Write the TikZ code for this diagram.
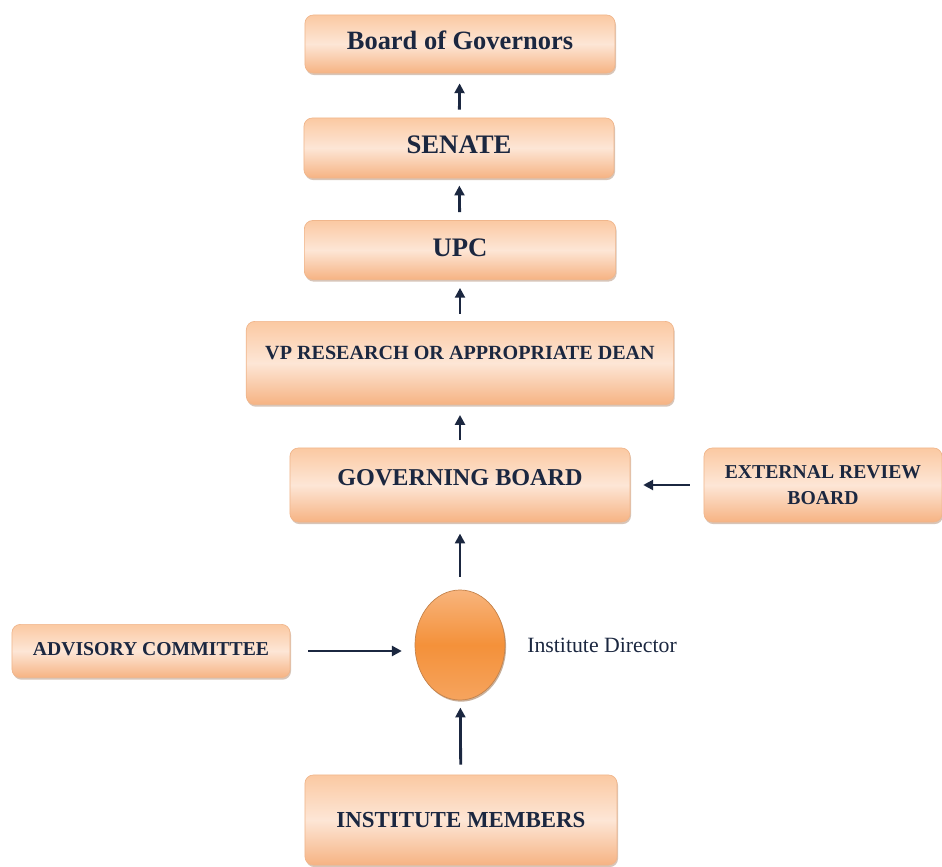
\documentclass[tikz,border=0pt]{standalone}
\usepackage{fontspec}
\setmainfont{Liberation Serif}
\usepackage{tikz}
\usetikzlibrary{arrows.meta,shapes.geometric,shadows}

\definecolor{inktext}{HTML}{1B2740}
\definecolor{boxtop}{HTML}{FBC9A2}
\definecolor{boxmid}{HTML}{FDE6D6}
\definecolor{boxbot}{HTML}{F6B383}
\definecolor{boxline}{HTML}{F0B68C}
\definecolor{dirtop}{HTML}{F8B47C}
\definecolor{dirmid}{HTML}{F4913A}
\definecolor{dirbot}{HTML}{F6A45E}

\tikzset{
  orgbox/.style={rectangle, rounded corners=6pt, draw=boxline, line width=0.5pt,
    top color=boxtop, bottom color=boxbot, middle color=boxmid,
    drop shadow={shadow xshift=0.7pt, shadow yshift=-1.5pt, fill=boxline!70!black, opacity=0.45},
    text=inktext, font=\bfseries, align=center, inner sep=0pt},
  orgarrow/.style={draw=inktext, line width=2pt, -{Triangle[length=7pt,width=7pt]}}
}

\begin{document}
\begin{tikzpicture}[x=0.025cm, y=-0.025cm]

  \useasboundingbox (0,0) rectangle (942,867);

  % Boxes of the chain
  \node[orgbox, minimum width=7.75cm, minimum height=1.45cm, text depth=5pt,
    font=\bfseries\fontsize{18.8}{20}\selectfont] (bog) at (460,44) {Board of Governors};
  \node[orgbox, minimum width=7.75cm, minimum height=1.5cm, text depth=5pt,
    font=\bfseries\fontsize{19}{20}\selectfont] (senate) at (459,148) {SENATE};
  \node[orgbox, minimum width=7.78cm, minimum height=1.475cm, text depth=4pt,
    font=\bfseries\fontsize{19}{20}\selectfont] (upc) at (460,250) {UPC};
  \node[orgbox, minimum width=10.68cm, minimum height=2.08cm, text depth=14pt,
    font=\bfseries\fontsize{14.3}{16}\selectfont] (vp) at (460,363) {VP RESEARCH OR APPROPRIATE DEAN};
  \node[orgbox, minimum width=8.5cm, minimum height=1.85cm, text depth=11pt,
    font=\bfseries\fontsize{17.2}{19}\selectfont] (gb) at (460,485) {GOVERNING BOARD};
  \node[orgbox, minimum width=5.95cm, minimum height=1.85cm,
    font=\bfseries\fontsize{14}{18.5}\selectfont] (erb) at (823,485) {EXTERNAL REVIEW\\BOARD};
  \node[orgbox, minimum width=6.95cm, minimum height=1.33cm, text depth=3pt,
    font=\bfseries\fontsize{14}{16}\selectfont] (adv) at (151,651) {ADVISORY COMMITTEE};
  \node[orgbox, minimum width=7.8cm, minimum height=2.25cm,
    font=\bfseries\fontsize{16.3}{18}\selectfont] (mem) at (461,820) {INSTITUTE MEMBERS};

  % Director
  \node[ellipse, draw=dirbot!80!black, line width=0.5pt, minimum width=2.25cm, minimum height=2.75cm,
    top color=dirtop, bottom color=dirbot, middle color=dirmid, inner sep=0pt,
    drop shadow={shadow xshift=0.8pt, shadow yshift=-1.2pt, fill=dirbot!60!black, opacity=0.5}] (dir) at (460,645) {};
  \node[anchor=west, text=inktext, font=\fontsize{15.5}{17}\selectfont, inner sep=0pt] (dirlabel) at (527,645) {Institute Director};

  % Arrows
  \draw[orgarrow, shorten <=0.2cm, shorten >=0.25cm] (senate) -- (bog);
  \draw[orgarrow, shorten <=0.2cm, shorten >=0.18cm] (upc) -- (senate);
  \draw[orgarrow, shorten <=0.18cm, shorten >=0.2cm] (vp) -- (upc);
  \draw[orgarrow, shorten <=0.18cm, shorten >=0.25cm] (gb) -- (vp);
  \draw[orgarrow, shorten <=0.32cm, shorten >=0.28cm] (dir) -- (gb);
  \draw[orgarrow, shorten <=0.35cm, shorten >=0.32cm] (erb) -- (gb);
  \draw[orgarrow, shorten <=0.45cm, shorten >=0.32cm] (adv.east) -- (adv.east -| dir.west);
  \draw[orgarrow, shorten <=0.25cm, shorten >=0.18cm] (mem) -- (dir);

\end{tikzpicture}
\end{document}
